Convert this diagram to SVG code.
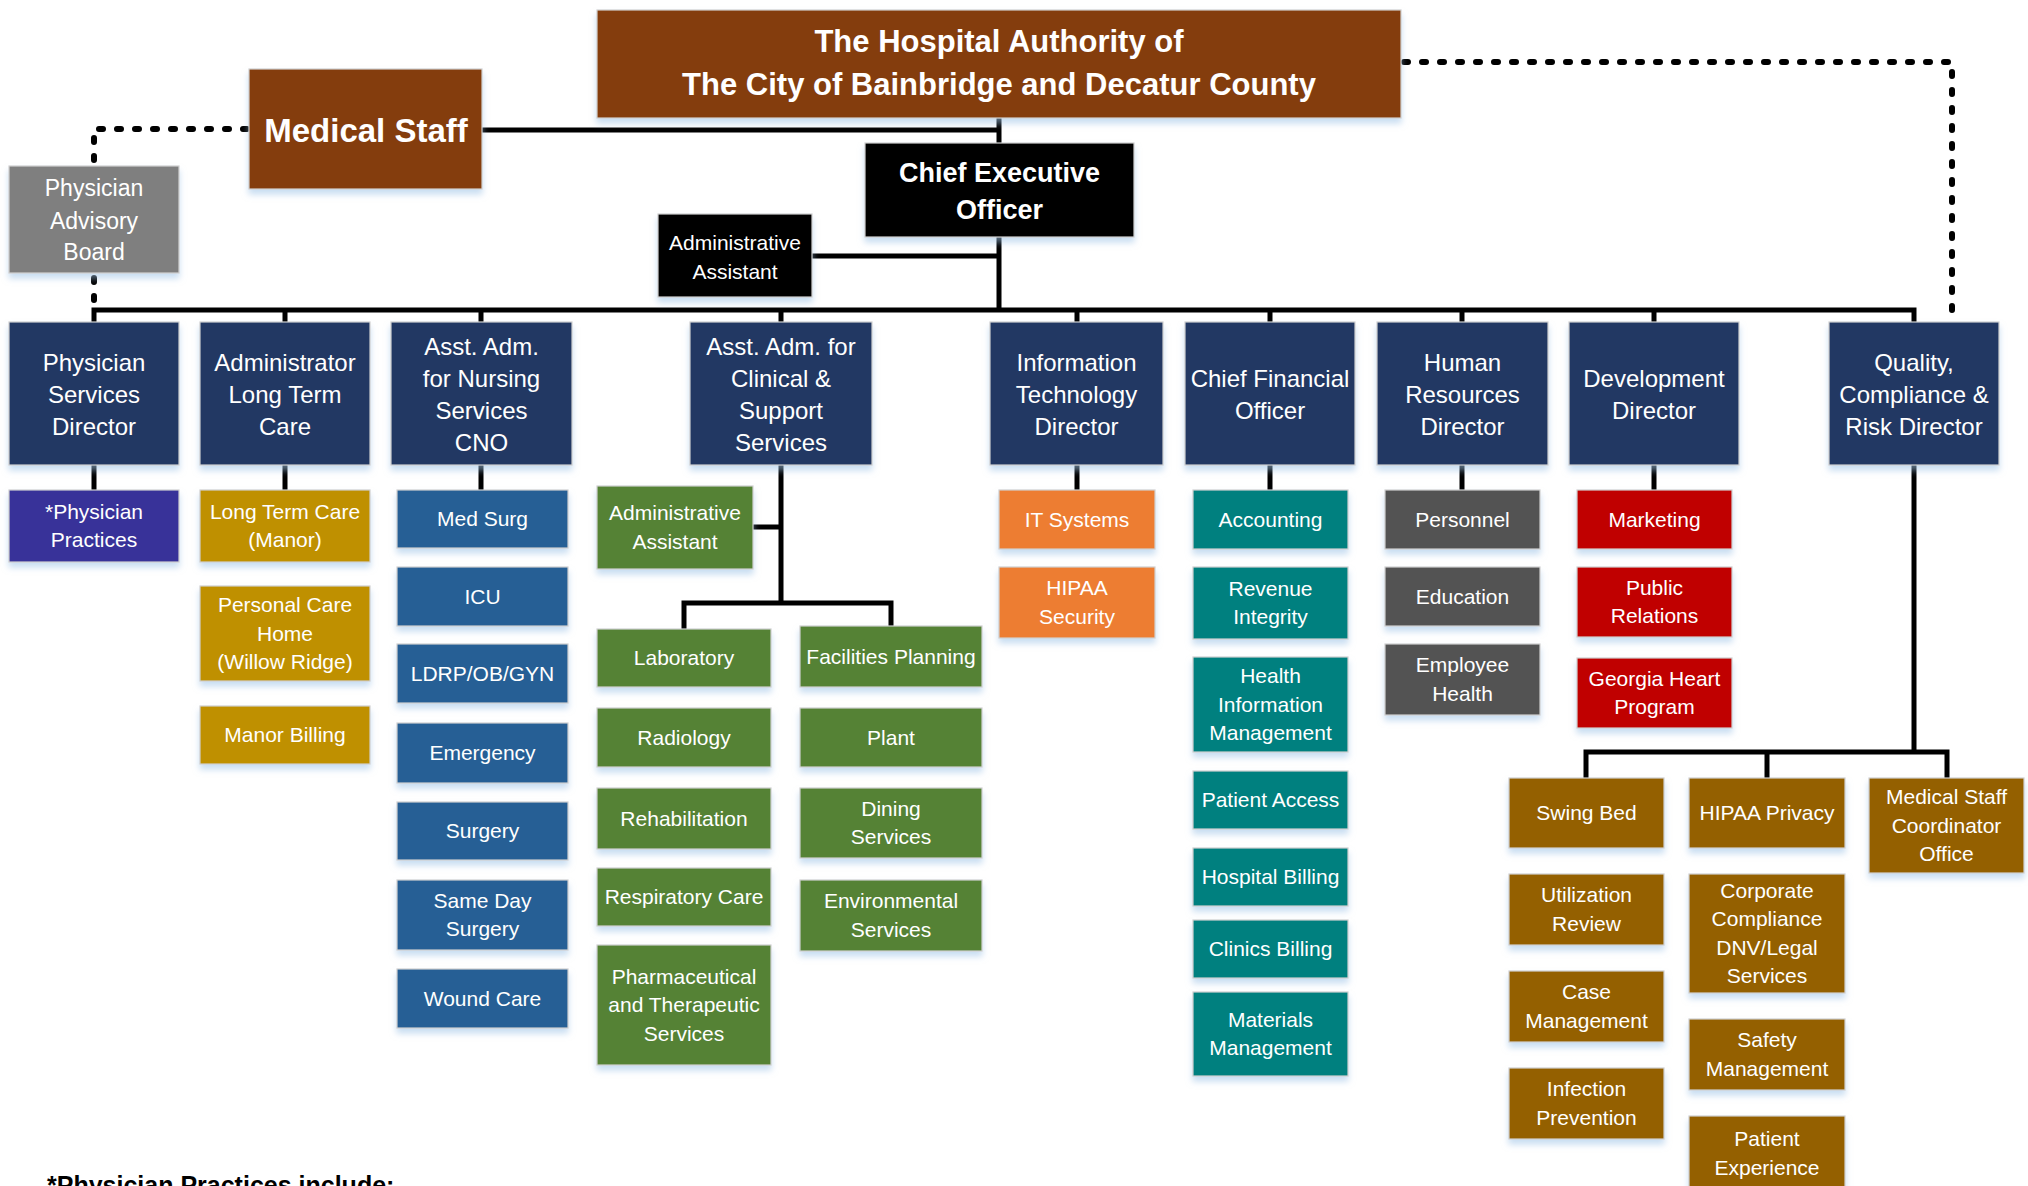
<svg xmlns="http://www.w3.org/2000/svg" width="2028" height="1186" viewBox="0 0 2028 1186">
<defs>
<filter id="sh" x="-10%" y="-10%" width="120%" height="135%">
<feDropShadow dx="0" dy="5" stdDeviation="3" flood-color="#9DC3E6" flood-opacity="0.55"/>
</filter>
</defs>
<style>
rect{filter:url(#sh);stroke:#D0D0D0;stroke-width:1.2}
text{font-family:"Liberation Sans",Arial,sans-serif;fill:#fff;text-anchor:middle}
.s{font-size:21px}
.h{font-size:24px}
.b{font-weight:bold}
.navy{fill:#203864}.purple{fill:#383399}.gold{fill:#BF9000}.blue{fill:#255E95}
.green{fill:#548235}.orange{fill:#ED7D31}.teal{fill:#00807F}.gray{fill:#525252}
.red{fill:#C00000}.brown{fill:#946000}.rust{fill:#843C0C}.black{fill:#000}.pab{fill:#7F7F7F}
.ln{fill:none;stroke:#000;stroke-width:5;stroke-linejoin:miter}
.dot{fill:none;stroke:#000;stroke-width:6;stroke-linecap:round;stroke-dasharray:4 14}
</style>
<g id="connectors">
<path class="ln" d="M999,115 V310"/>
<path class="ln" d="M482,130 H999"/>
<path class="ln" d="M812,256 H999"/>
<path class="ln" d="M94,322 V310 H1914 V322"/>
<path class="ln" d="M285,310 V322 M481,310 V322 M781,310 V322 M1077,310 V322 M1270,310 V322 M1462,310 V322 M1654,310 V322"/>
<path class="ln" d="M94,465 V490 M285,465 V490 M481,465 V490 M1077,465 V490 M1270,465 V490 M1462,465 V490 M1654,465 V490"/>
<path class="ln" d="M781,465 V603 M753,527 H781 M684,629 V603 H891 V626"/>
<path class="ln" d="M1914,465 V752 M1586,778 V752 H1947 V778 M1767,752 V778"/>
<path class="dot" d="M247,129 H94 V166"/>
<path class="dot" d="M94,278 V308"/>
<path class="dot" d="M1404,62 H1952 V320"/>
</g>
<g id="title"><rect class="rust" x="597" y="10" width="804" height="108"/>
<text class="b" font-size="31" x="999" y="52">The Hospital Authority of</text>
<text class="b" font-size="31" x="999" y="95">The City of Bainbridge and Decatur County</text></g>
<g id="medical-staff"><rect class="rust" x="249" y="69" width="233" height="120"/>
<text class="b" font-size="33" x="366" y="142">Medical Staff</text></g>
<g id="ceo"><rect class="black" x="865" y="143" width="269" height="94"/>
<text class="b" font-size="27" x="999.5" y="182">Chief Executive</text>
<text class="b" font-size="27" x="999.5" y="219">Officer</text></g>
<g id="admin-assistant-ceo"><rect class="black" x="658" y="214" width="154" height="83"/>
<text font-size="21" x="735" y="250" fill="#f2f2f2">Administrative</text>
<text font-size="21" x="735" y="279" fill="#f2f2f2">Assistant</text></g>
<g id="physician-advisory-board"><rect class="pab" x="9" y="166" width="170" height="107"/>
<text font-size="23" x="94" y="196">Physician</text>
<text font-size="23" x="94" y="229">Advisory</text>
<text font-size="23" x="94" y="260">Board</text></g>

<g id="physician-services-director"><rect class="navy" x="9" y="322" width="170" height="143"/>
<text class="h" x="94" y="371">Physician</text><text class="h" x="94" y="403">Services</text><text class="h" x="94" y="435">Director</text></g>
<g id="administrator-ltc"><rect class="navy" x="200" y="322" width="170" height="143"/>
<text class="h" x="285" y="371">Administrator</text><text class="h" x="285" y="403">Long Term</text><text class="h" x="285" y="435">Care</text></g>
<g id="cno"><rect class="navy" x="391" y="322" width="181" height="143"/>
<text class="h" x="481.5" y="355">Asst. Adm.</text><text class="h" x="481.5" y="387">for Nursing</text><text class="h" x="481.5" y="419">Services</text><text class="h" x="481.5" y="451">CNO</text></g>
<g id="clinical-support"><rect class="navy" x="690" y="322" width="182" height="143"/>
<text class="h" x="781" y="355">Asst. Adm. for</text><text class="h" x="781" y="387">Clinical &amp;</text><text class="h" x="781" y="419">Support</text><text class="h" x="781" y="451">Services</text></g>
<g id="it-director"><rect class="navy" x="990" y="322" width="173" height="143"/>
<text class="h" x="1076.5" y="371">Information</text><text class="h" x="1076.5" y="403">Technology</text><text class="h" x="1076.5" y="435">Director</text></g>
<g id="cfo"><rect class="navy" x="1185" y="322" width="170" height="143"/>
<text class="h" x="1270" y="387">Chief Financial</text><text class="h" x="1270" y="419">Officer</text></g>
<g id="hr-director"><rect class="navy" x="1377" y="322" width="171" height="143"/>
<text class="h" x="1462.5" y="371">Human</text><text class="h" x="1462.5" y="403">Resources</text><text class="h" x="1462.5" y="435">Director</text></g>
<g id="development-director"><rect class="navy" x="1569" y="322" width="170" height="143"/>
<text class="h" x="1654" y="387">Development</text><text class="h" x="1654" y="419">Director</text></g>
<g id="quality-director"><rect class="navy" x="1829" y="322" width="170" height="143"/>
<text class="h" x="1914" y="371">Quality,</text><text class="h" x="1914" y="403">Compliance &amp;</text><text class="h" x="1914" y="435">Risk Director</text></g>

<g id="physician-practices"><rect class="purple" x="9" y="490" width="170" height="72"/>
<text class="s" x="94" y="519">*Physician</text><text class="s" x="94" y="547">Practices</text></g>
<g id="ltc-manor"><rect class="gold" x="200" y="490" width="170" height="72"/>
<text class="s" x="285" y="519">Long Term Care</text><text class="s" x="285" y="547">(Manor)</text></g>
<g id="personal-care-home"><rect class="gold" x="200" y="586" width="170" height="95"/>
<text class="s" x="285" y="612">Personal Care</text><text class="s" x="285" y="640.5">Home</text><text class="s" x="285" y="669">(Willow Ridge)</text></g>
<g id="manor-billing"><rect class="gold" x="200" y="706" width="170" height="58"/>
<text class="s" x="285" y="742">Manor Billing</text></g>

<g id="med-surg"><rect class="blue" x="397" y="490" width="171" height="58"/><text class="s" x="482.5" y="526">Med Surg</text></g>
<g id="icu"><rect class="blue" x="397" y="567" width="171" height="59"/><text class="s" x="482.5" y="603.5">ICU</text></g>
<g id="ldrp"><rect class="blue" x="397" y="644" width="171" height="59"/><text class="s" x="482.5" y="680.5">LDRP/OB/GYN</text></g>
<g id="emergency"><rect class="blue" x="397" y="723" width="171" height="60"/><text class="s" x="482.5" y="760">Emergency</text></g>
<g id="surgery"><rect class="blue" x="397" y="802" width="171" height="58"/><text class="s" x="482.5" y="838">Surgery</text></g>
<g id="same-day-surgery"><rect class="blue" x="397" y="880" width="171" height="70"/><text class="s" x="482.5" y="907.75">Same Day</text><text class="s" x="482.5" y="936.25">Surgery</text></g>
<g id="wound-care"><rect class="blue" x="397" y="969" width="171" height="59"/><text class="s" x="482.5" y="1005.5">Wound Care</text></g>

<g id="admin-assistant-clinical"><rect class="green" x="597" y="486" width="156" height="83"/>
<text font-size="21" x="675" y="520" fill="#E4E4E4">Administrative</text><text font-size="21" x="675" y="549" fill="#E4E4E4">Assistant</text></g>
<g id="laboratory"><rect class="green" x="597" y="629" width="174" height="58"/><text class="s" x="684" y="665">Laboratory</text></g>
<g id="radiology"><rect class="green" x="597" y="708" width="174" height="59"/><text class="s" x="684" y="744.5">Radiology</text></g>
<g id="rehabilitation"><rect class="green" x="597" y="788" width="174" height="61"/><text class="s" x="684" y="825.5">Rehabilitation</text></g>
<g id="respiratory-care"><rect class="green" x="597" y="868" width="174" height="58"/><text class="s" x="684" y="904">Respiratory Care</text></g>
<g id="pharmaceutical"><rect class="green" x="597" y="945" width="174" height="120"/><text class="s" x="684" y="983.5">Pharmaceutical</text><text class="s" x="684" y="1012">and Therapeutic</text><text class="s" x="684" y="1040.5">Services</text></g>
<g id="facilities-planning"><rect class="green" x="800" y="626" width="182" height="61"/><text class="s" x="891" y="663.5">Facilities Planning</text></g>
<g id="plant"><rect class="green" x="800" y="708" width="182" height="59"/><text class="s" x="891" y="744.5">Plant</text></g>
<g id="dining-services"><rect class="green" x="800" y="788" width="182" height="70"/><text class="s" x="891" y="815.75">Dining</text><text class="s" x="891" y="844.25">Services</text></g>
<g id="environmental-services"><rect class="green" x="800" y="880" width="182" height="71"/><text class="s" x="891" y="908.25">Environmental</text><text class="s" x="891" y="936.75">Services</text></g>

<g id="it-systems"><rect class="orange" x="999" y="490" width="156" height="59"/><text class="s" x="1077" y="526.5">IT Systems</text></g>
<g id="hipaa-security"><rect class="orange" x="999" y="567" width="156" height="71"/><text class="s" x="1077" y="595.25">HIPAA</text><text class="s" x="1077" y="623.75">Security</text></g>

<g id="accounting"><rect class="teal" x="1193" y="490" width="155" height="59"/><text class="s" x="1270.5" y="526.5">Accounting</text></g>
<g id="revenue-integrity"><rect class="teal" x="1193" y="567" width="155" height="72"/><text class="s" x="1270.5" y="595.75">Revenue</text><text class="s" x="1270.5" y="624.25">Integrity</text></g>
<g id="him"><rect class="teal" x="1193" y="657" width="155" height="95"/><text class="s" x="1270.5" y="683">Health</text><text class="s" x="1270.5" y="711.5">Information</text><text class="s" x="1270.5" y="740">Management</text></g>
<g id="patient-access"><rect class="teal" x="1193" y="771" width="155" height="58"/><text class="s" x="1270.5" y="807">Patient Access</text></g>
<g id="hospital-billing"><rect class="teal" x="1193" y="848" width="155" height="58"/><text class="s" x="1270.5" y="884">Hospital Billing</text></g>
<g id="clinics-billing"><rect class="teal" x="1193" y="920" width="155" height="58"/><text class="s" x="1270.5" y="956">Clinics Billing</text></g>
<g id="materials-management"><rect class="teal" x="1193" y="992" width="155" height="84"/><text class="s" x="1270.5" y="1026.75">Materials</text><text class="s" x="1270.5" y="1055.25">Management</text></g>

<g id="personnel"><rect class="gray" x="1385" y="490" width="155" height="59"/><text class="s" x="1462.5" y="526.5">Personnel</text></g>
<g id="education"><rect class="gray" x="1385" y="567" width="155" height="59"/><text class="s" x="1462.5" y="603.5">Education</text></g>
<g id="employee-health"><rect class="gray" x="1385" y="644" width="155" height="71"/><text class="s" x="1462.5" y="672.25">Employee</text><text class="s" x="1462.5" y="700.75">Health</text></g>

<g id="marketing"><rect class="red" x="1577" y="490" width="155" height="59"/><text class="s" x="1654.5" y="526.5">Marketing</text></g>
<g id="public-relations"><rect class="red" x="1577" y="567" width="155" height="70"/><text class="s" x="1654.5" y="594.75">Public</text><text class="s" x="1654.5" y="623.25">Relations</text></g>
<g id="georgia-heart"><rect class="red" x="1577" y="658" width="155" height="70"/><text class="s" x="1654.5" y="685.75">Georgia Heart</text><text class="s" x="1654.5" y="714.25">Program</text></g>

<g id="swing-bed"><rect class="brown" x="1509" y="778" width="155" height="70"/><text class="s" x="1586.5" y="820">Swing Bed</text></g>
<g id="hipaa-privacy"><rect class="brown" x="1689" y="778" width="156" height="70"/><text class="s" x="1767" y="820">HIPAA Privacy</text></g>
<g id="medical-staff-coordinator"><rect class="brown" x="1869" y="778" width="155" height="95"/><text class="s" x="1946.5" y="804">Medical Staff</text><text class="s" x="1946.5" y="832.5">Coordinator</text><text class="s" x="1946.5" y="861">Office</text></g>
<g id="utilization-review"><rect class="brown" x="1509" y="874" width="155" height="71"/><text class="s" x="1586.5" y="902.25">Utilization</text><text class="s" x="1586.5" y="930.75">Review</text></g>
<g id="case-management"><rect class="brown" x="1509" y="971" width="155" height="71"/><text class="s" x="1586.5" y="999.25">Case</text><text class="s" x="1586.5" y="1027.75">Management</text></g>
<g id="infection-prevention"><rect class="brown" x="1509" y="1068" width="155" height="71"/><text class="s" x="1586.5" y="1096.25">Infection</text><text class="s" x="1586.5" y="1124.75">Prevention</text></g>
<g id="corporate-compliance"><rect class="brown" x="1689" y="874" width="156" height="119"/><text class="s" x="1767" y="897.75">Corporate</text><text class="s" x="1767" y="926.25">Compliance</text><text class="s" x="1767" y="954.75">DNV/Legal</text><text class="s" x="1767" y="983.25">Services</text></g>
<g id="safety-management"><rect class="brown" x="1689" y="1019" width="156" height="71"/><text class="s" x="1767" y="1047.25">Safety</text><text class="s" x="1767" y="1075.75">Management</text></g>
<g id="patient-experience"><rect class="brown" x="1689" y="1116" width="156" height="78"/><text class="s" x="1767" y="1146.25">Patient</text><text class="s" x="1767" y="1174.75">Experience</text></g>

<text x="47" y="1194" font-size="25" font-weight="bold" style="fill:#000;text-anchor:start">*Physician Practices include:</text>
</svg>
